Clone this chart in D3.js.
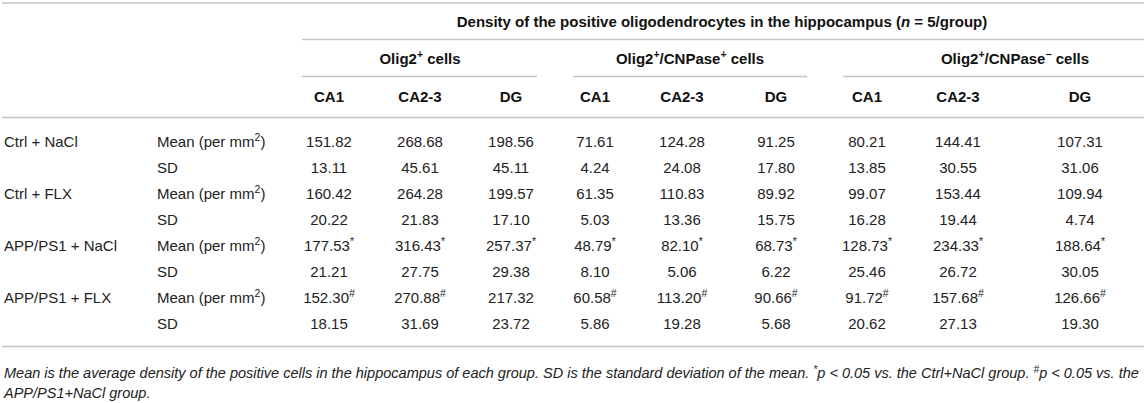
<!DOCTYPE html>
<html><head><meta charset="utf-8">
<script src="https://cdn.jsdelivr.net/npm/d3@7/dist/d3.min.js"></script>
<style>
html,body{margin:0;padding:0;background:#fff;}
svg{display:block;font-family:"Liberation Sans",Arial,Helvetica,sans-serif;}
</style></head>
<body><svg id="chart" width="1144" height="403"></svg>
<script>
// ---- data ----
const groups = ["Ctrl + NaCl", "Ctrl + FLX", "APP/PS1 + NaCl", "APP/PS1 + FLX"];
const statLabels = ["Mean", "SD"];
const cellTypes = ["Olig2+ cells", "Olig2+/CNPase+ cells", "Olig2+/CNPase− cells"];
const regions = ["CA1", "CA2-3", "DG"];
const meanValues = [
  [151.82, 268.68, 198.56, 71.61, 124.28, 91.25, 80.21, 144.41, 107.31],
  [160.42, 264.28, 199.57, 61.35, 110.83, 89.92, 99.07, 153.44, 109.94],
  [177.53, 316.43, 257.37, 48.79, 82.10, 68.73, 128.73, 234.33, 188.64],
  [152.30, 270.88, 217.32, 60.58, 113.20, 90.66, 91.72, 157.68, 126.66]
];
const sdValues = [
  [13.11, 45.61, 45.11, 4.24, 24.08, 17.80, 13.85, 30.55, 31.06],
  [20.22, 21.83, 17.10, 5.03, 13.36, 15.75, 16.28, 19.44, 4.74],
  [21.21, 27.75, 29.38, 8.10, 5.06, 6.22, 25.46, 26.72, 30.05],
  [18.15, 31.69, 23.72, 5.86, 19.28, 5.68, 20.62, 27.13, 19.30]
];
const meanMarks = [
  ["", "", "", "", "", "", "", "", ""],
  ["", "", "", "", "", "", "", "", ""],
  ["*", "*", "*", "*", "*", "*", "*", "*", "*"],
  ["#", "#", "", "#", "#", "#", "#", "#", "#"]
];
const title = "Density of the positive oligodendrocytes in the hippocampus";
const footnote1 = "Mean is the average density of the positive cells in the hippocampus of each group. SD is the standard deviation of the mean.";
const footnote2 = "APP/PS1+NaCl group.";

// ---- layout ----
const W = 1144;
const FS = 15;
const svg = d3.select("#chart");
const lineColor = "#c4c4c4";
const textColor = "#222";
const colKeys = d3.range(9);
const x = d3.scaleOrdinal().domain(colKeys).range([329, 420, 511, 595, 682, 776, 867, 958, 1080]);
const rowKeys = d3.range(groups.length * 2);
const y = d3.scalePoint().domain(rowKeys).range([142, 324]);
const groupSpans = [[302, 537, 420], [573, 807, 690], [843, W, 1015]];

function hline(x1, x2, yy) {
  svg.append("line").attr("x1", x1).attr("x2", x2).attr("y1", yy).attr("y2", yy)
    .attr("stroke", lineColor).attr("stroke-width", 1.7);
}
hline(2, W, 3);
hline(302, W, 39.5);
groupSpans.forEach(s => hline(s[0], s[1], 76.5));
hline(2, W, 117.5);
hline(2, W, 346.5);

// title
const t = svg.append("text").attr("x", 722).attr("y", 22).attr("dy", "0.35em")
  .attr("text-anchor", "middle").attr("font-weight", "bold").attr("font-size", FS).attr("fill", "#111")
  .attr("xml:space", "preserve");
t.append("tspan").text(title + " (");
t.append("tspan").attr("font-style", "italic").text("n");
t.append("tspan").text(" = 5/group)");

function supText(sel, str) {
  const parts = str.split(/([+−])/);
  parts.forEach(p => {
    if (p === "+" || p === "−") {
      sel.append("tspan").attr("baseline-shift", "super").attr("font-size", "70%").text(p);
    } else if (p.length) {
      sel.append("tspan").text(p);
    }
  });
}
cellTypes.forEach((c, i) => {
  const tt = svg.append("text").attr("x", groupSpans[i][2]).attr("y", 59).attr("dy", "0.35em")
    .attr("text-anchor", "middle").attr("font-weight", "bold").attr("font-size", FS).attr("fill", "#111")
    .attr("xml:space", "preserve");
  supText(tt, c);
});

// region sub-headers
svg.append("g").selectAll("text").data(colKeys).join("text")
  .attr("x", d => x(d)).attr("y", 97).attr("dy", "0.35em")
  .attr("text-anchor", "middle").attr("font-weight", "bold").attr("font-size", FS).attr("fill", "#111")
  .text(d => regions[d % 3]);

// row labels
groups.forEach((g, gi) => {
  svg.append("text").attr("x", 4).attr("y", y(gi * 2)).attr("dy", "0.35em")
    .attr("font-size", FS).attr("fill", textColor).text(g);
  const m = svg.append("text").attr("x", 157).attr("y", y(gi * 2)).attr("dy", "0.35em")
    .attr("font-size", FS).attr("fill", textColor);
  m.append("tspan").text(statLabels[0] + " (per mm");
  m.append("tspan").attr("baseline-shift", "super").attr("font-size", "70%").text("2");
  m.append("tspan").text(")");
  svg.append("text").attr("x", 157).attr("y", y(gi * 2 + 1)).attr("dy", "0.35em")
    .attr("font-size", FS).attr("fill", textColor).text(statLabels[1]);
});

// cells
const cells = [];
groups.forEach((g, gi) => {
  colKeys.forEach(c => {
    cells.push({row: gi * 2, col: c, v: meanValues[gi][c], mark: meanMarks[gi][c]});
    cells.push({row: gi * 2 + 1, col: c, v: sdValues[gi][c], mark: ""});
  });
});
const fmt = d3.format(".2f");
const ct = svg.append("g").selectAll("text").data(cells).join("text")
  .attr("x", d => x(d.col)).attr("y", d => y(d.row)).attr("dy", "0.35em")
  .attr("text-anchor", "middle").attr("font-size", FS).attr("fill", textColor);
ct.append("tspan").text(d => fmt(d.v));
ct.filter(d => d.mark).append("tspan").attr("baseline-shift", "super").attr("font-size", "70%").text(d => d.mark);

// footnote
const f1 = svg.append("text").attr("x", 4).attr("y", 373).attr("dy", "0.35em")
  .attr("font-size", 13).attr("font-style", "italic").attr("fill", textColor).attr("xml:space", "preserve");
f1.append("tspan").text(footnote1 + " ");
f1.append("tspan").attr("baseline-shift", "super").attr("font-size", "70%").text("*");
f1.append("tspan").text("p < 0.05 vs. the Ctrl+NaCl group. ");
f1.append("tspan").attr("baseline-shift", "super").attr("font-size", "70%").text("#");
f1.append("tspan").text("p < 0.05 vs. the");
const len = f1.node().getComputedTextLength();
const ffs = 13 * 1136 / len;
f1.attr("font-size", ffs);
svg.append("text").attr("x", 4).attr("y", 393).attr("dy", "0.35em")
  .attr("font-size", ffs).attr("font-style", "italic").attr("fill", textColor).text(footnote2);
</script>
</body></html>
